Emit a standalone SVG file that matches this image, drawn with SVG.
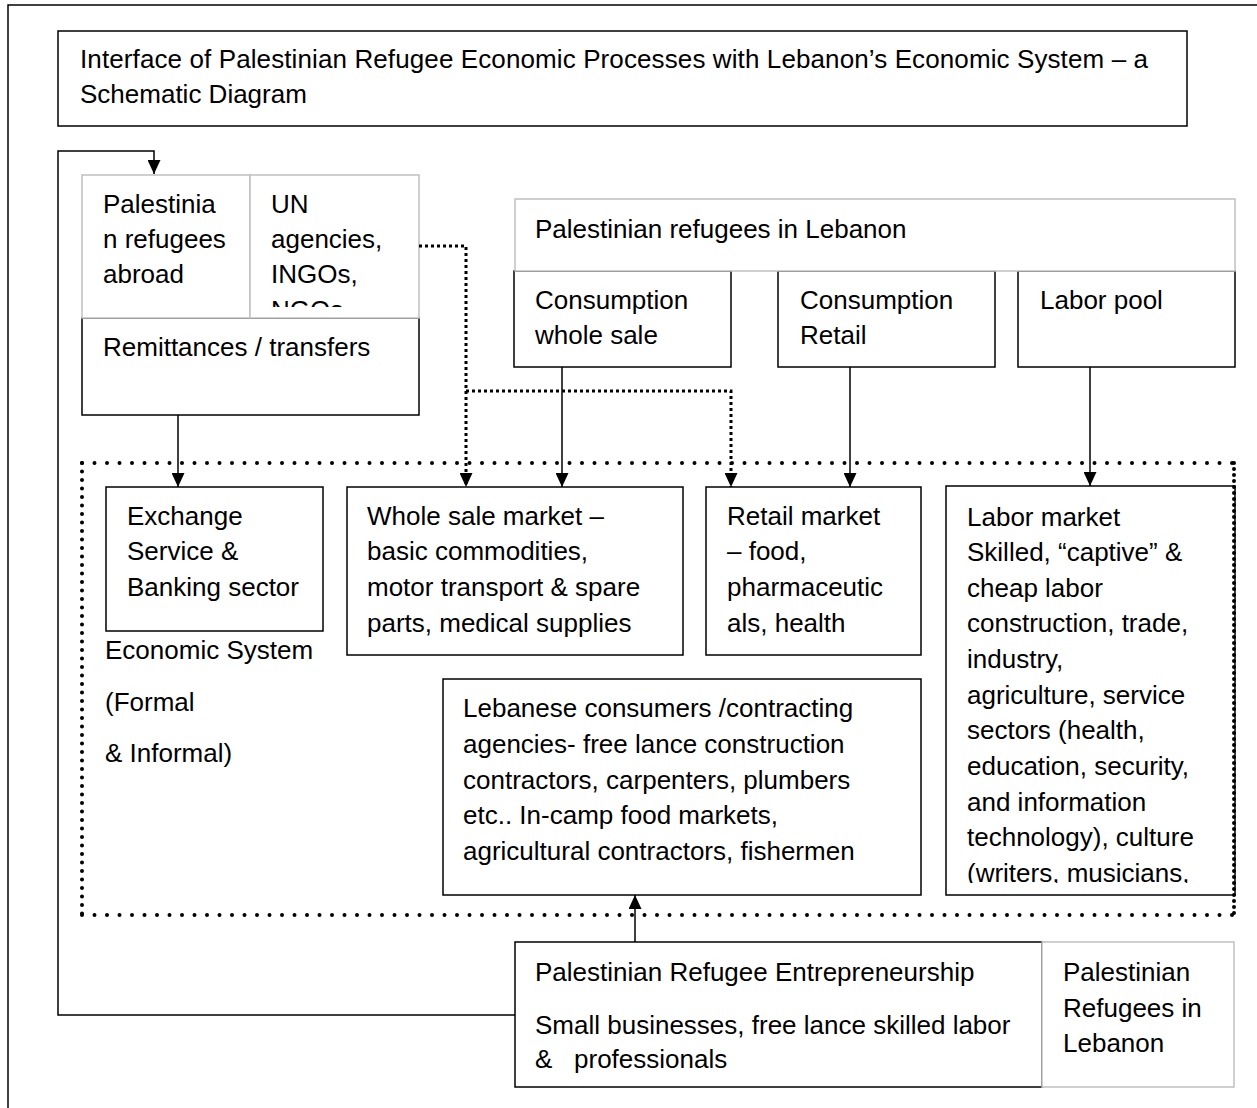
<svg xmlns="http://www.w3.org/2000/svg" width="1257" height="1108" viewBox="0 0 1257 1108">
<style>
text { font-family: "Liberation Sans", Arial, sans-serif; font-size: 26px; fill: #000; }
.box { fill: #fff; stroke: #000; stroke-width: 1.5; }
.gbox { fill: #fff; stroke: #c0c0c0; stroke-width: 1.5; }
.conn { fill: none; stroke: #000; stroke-width: 1.5; }
.sq { fill: none; stroke: #000; stroke-width: 3; stroke-dasharray: 3 3; }
.dots { fill: none; stroke: #000; stroke-width: 4; stroke-linecap: round; }
</style>
<defs>
<marker id="arr" viewBox="0 0 14 13" refX="14" refY="6.5" markerWidth="14" markerHeight="13" markerUnits="userSpaceOnUse" orient="auto">
<path d="M0,0 L14,6.5 L0,13 z" fill="#000"/>
</marker>
<clipPath id="clipUN"><rect x="250" y="175" width="169" height="132"/></clipPath>
<clipPath id="clipLab"><rect x="946" y="486" width="289" height="397"/></clipPath>
</defs>
<rect x="0" y="0" width="1257" height="1108" fill="#fff"/>
<rect id="frame" x="8" y="5" width="1270" height="1120" fill="none" stroke="#000" stroke-width="1.5"/>

<g id="title">
<rect class="box" x="58" y="31" width="1129" height="95"/>
<text x="80" y="68" textLength="1068" lengthAdjust="spacing">Interface of Palestinian Refugee Economic Processes with Lebanon’s Economic System – a</text>
<text x="80" y="103">Schematic Diagram</text>
</g>

<g id="remittances">
<rect class="box" x="82" y="318" width="337" height="97"/>
<text x="103" y="356">Remittances / transfers</text>
</g>
<g id="refugees-abroad">
<rect class="gbox" x="82" y="175" width="168" height="143"/>
<text x="103" y="213">Palestinia</text>
<text x="103" y="248">n refugees</text>
<text x="103" y="283">abroad</text>
</g>
<g id="un-agencies">
<rect class="gbox" x="250" y="175" width="169" height="143"/>
<g clip-path="url(#clipUN)">
<text x="271" y="213">UN</text>
<text x="271" y="248">agencies,</text>
<text x="271" y="283">INGOs,</text>
<text x="271" y="319">NGOs</text>
</g>
</g>

<g id="consumption-wholesale">
<rect class="box" x="514" y="271" width="217" height="96"/>
<text x="535" y="309">Consumption</text>
<text x="535" y="344">whole sale</text>
</g>
<g id="consumption-retail">
<rect class="box" x="778" y="271" width="217" height="96"/>
<text x="800" y="309">Consumption</text>
<text x="800" y="344">Retail</text>
</g>
<g id="labor-pool">
<rect class="box" x="1018" y="271" width="217" height="96"/>
<text x="1040" y="309">Labor pool</text>
</g>
<g id="refugees-lebanon">
<rect class="gbox" x="515" y="199" width="720" height="72"/>
<text x="535" y="238">Palestinian refugees in Lebanon</text>
</g>

<g id="exchange">
<rect class="box" x="106" y="487" width="217" height="144"/>
<text x="127" y="525">Exchange</text>
<text x="127" y="560">Service &amp;</text>
<text x="127" y="596">Banking sector</text>
</g>
<g id="economic-system-label">
<text x="105" y="659">Economic System</text>
<text x="105" y="711">(Formal</text>
<text x="105" y="762">&amp; Informal)</text>
</g>
<g id="wholesale-market">
<rect class="box" x="347" y="487" width="336" height="168"/>
<text x="367" y="525">Whole sale market –</text>
<text x="367" y="560">basic commodities,</text>
<text x="367" y="596">motor transport &amp; spare</text>
<text x="367" y="632">parts, medical supplies</text>
</g>
<g id="retail-market">
<rect class="box" x="706" y="487" width="215" height="168"/>
<text x="727" y="525">Retail market</text>
<text x="727" y="560">– food,</text>
<text x="727" y="596">pharmaceutic</text>
<text x="727" y="632">als, health</text>
</g>
<g id="labor-market">
<rect class="box" x="946" y="486" width="289" height="409"/>
<g clip-path="url(#clipLab)">
<text x="967" y="526">Labor market</text>
<text x="967" y="561">Skilled, “captive” &amp;</text>
<text x="967" y="597">cheap labor</text>
<text x="967" y="632">construction, trade,</text>
<text x="967" y="668">industry,</text>
<text x="967" y="704">agriculture, service</text>
<text x="967" y="739">sectors (health,</text>
<text x="967" y="775">education, security,</text>
<text x="967" y="811">and information</text>
<text x="967" y="846">technology), culture</text>
<text x="967" y="882">(writers, musicians,</text>
</g>
</g>
<g id="lebanese-consumers">
<rect class="box" x="443" y="679" width="478" height="216"/>
<text x="463" y="717">Lebanese consumers /contracting</text>
<text x="463" y="753">agencies- free lance construction</text>
<text x="463" y="789">contractors, carpenters, plumbers</text>
<text x="463" y="824">etc.. In-camp food markets,</text>
<text x="463" y="860">agricultural contractors, fishermen</text>
</g>
<g id="entrepreneurship">
<rect class="box" x="515" y="942" width="527" height="145"/>
<text x="535" y="981">Palestinian Refugee Entrepreneurship</text>
<text x="535" y="1034">Small businesses, free lance skilled labor</text>
<text x="535" y="1068" xml:space="preserve">&amp;   professionals</text>
</g>
<g id="refugees-lebanon-bottom">
<rect class="gbox" x="1042" y="942" width="192" height="145"/>
<text x="1063" y="981">Palestinian</text>
<text x="1063" y="1017">Refugees in</text>
<text x="1063" y="1052">Lebanon</text>
</g>

<g id="economic-system-boundary">
<path class="dots" d="M82,463 H1234" stroke-dasharray="0 12.5"/>
<path class="dots" d="M82,915 H1234" stroke-dasharray="0 12.5"/>
<path class="dots" d="M82,463 V915" stroke-dasharray="0 8.5"/>
<path class="dots" d="M1234,463 V915" stroke-width="3" stroke-dasharray="0 6"/>
</g>

<g id="connectors">
<path class="conn" d="M515,1015 H58 V151 H154 V174" marker-end="url(#arr)"/>
<path class="conn" d="M178,415 V487" marker-end="url(#arr)"/>
<path class="conn" d="M562,367 V487" marker-end="url(#arr)"/>
<path class="conn" d="M850,367 V487" marker-end="url(#arr)"/>
<path class="conn" d="M1090,367 V486" marker-end="url(#arr)"/>
<path class="conn" d="M635,942 V895" marker-end="url(#arr)"/>
<path class="sq" d="M419,246 H466 V487" marker-end="url(#arr)"/>
<path class="sq" d="M466,391 H731 V487" marker-end="url(#arr)"/>
</g>
</svg>
